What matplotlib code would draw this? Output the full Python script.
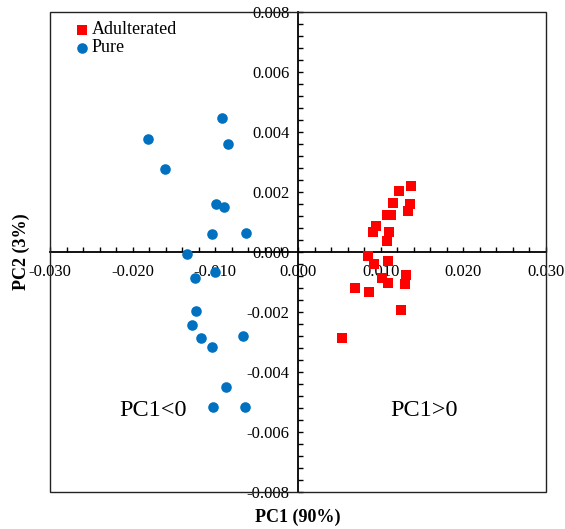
import matplotlib
matplotlib.use("Agg")
import matplotlib.pyplot as plt
from matplotlib.ticker import MultipleLocator, FormatStrFormatter
from matplotlib.patches import Rectangle

plt.rcParams['font.family'] = ['Liberation Serif', 'DejaVu Serif']
plt.rcParams['axes.unicode_minus'] = False

# Data
pure_x = [-0.00916, -0.01814, -0.00843, -0.01609, -0.00988, -0.00891, -0.01040, -0.00625,
          -0.01339, -0.01242, -0.01008, -0.01230, -0.01286, -0.01177, -0.00669, -0.01040,
          -0.00871, -0.01028, -0.00645]
pure_y = [0.00446, 0.00376, 0.00359, 0.00277, 0.00159, 0.00149, 0.00060, 0.00062,
          -0.00008, -0.00087, -0.00068, -0.00198, -0.00242, -0.00287, -0.00279, -0.00316,
          -0.00451, -0.00517, -0.00517]
adult_x = [0.01363, 0.01225, 0.01153, 0.01355, 0.01334, 0.01073, 0.01121, 0.00940,
           0.00904, 0.01101, 0.01073, 0.00850, 0.00919, 0.01085, 0.01020, 0.01092,
           0.01306, 0.01294, 0.00689, 0.00862, 0.01242, 0.00529]
adult_y = [0.00219, 0.00203, 0.00163, 0.00159, 0.00137, 0.00123, 0.00123, 0.00088,
           0.00068, 0.00068, 0.00037, -0.00012, -0.00040, -0.00030, -0.00088, -0.00104,
           -0.00077, -0.00108, -0.00119, -0.00134, -0.00193, -0.00288]

series_names = ["Adulterated", "Pure"]
x_label = "PC1 (90%)"
y_label = "PC2 (3%)"
region_labels = ["PC1<0", "PC1>0"]

fig = plt.figure(figsize=(5.65, 5.29), dpi=100)
ax = fig.add_axes([50/565, 37/529, 496/565, 480/529])

ax.scatter(adult_x, adult_y, marker='s', s=55, color='#FF0000', label=series_names[0],
           linewidths=0, zorder=3)
ax.scatter(pure_x, pure_y, marker='o', s=58, color='#0070C0', label=series_names[1],
           linewidths=0, zorder=3)

ax.set_xlim(-0.03, 0.03)
ax.set_ylim(-0.008, 0.008)

for s in ['top', 'right']:
    ax.spines[s].set_visible(False)
ax.spines['left'].set_position(('data', 0))
ax.spines['bottom'].set_position(('data', 0))
ax.spines['left'].set_linewidth(1.3)
ax.spines['bottom'].set_linewidth(1.3)

ax.add_patch(Rectangle((0, 0), 1, 1, transform=ax.transAxes, fill=False,
                       edgecolor='#222222', linewidth=1.0, clip_on=False, zorder=5))

ax.xaxis.set_major_locator(MultipleLocator(0.01))
ax.xaxis.set_minor_locator(MultipleLocator(0.002))
ax.yaxis.set_major_locator(MultipleLocator(0.002))
ax.yaxis.set_minor_locator(MultipleLocator(0.0004))
ax.xaxis.set_major_formatter(FormatStrFormatter('%.3f'))
ax.yaxis.set_major_formatter(FormatStrFormatter('%.3f'))

ax.tick_params(axis='x', which='both', direction='in', length=3.5, width=1, labelsize=12, pad=9)
ax.tick_params(axis='y', which='both', direction='in', length=3.5, width=1, labelsize=12, pad=6)

fig.text(298/565, 1 - 517/529, x_label, ha='center', va='center', fontsize=13, fontweight='bold')
fig.text(21/565, 1 - 252/529, y_label, ha='center', va='center', rotation=90,
         fontsize=13, fontweight='bold')

ax.text(-0.0175, -0.00530, region_labels[0], ha='center', va='center', fontsize=17.5)
ax.text(0.0152, -0.00530, region_labels[1], ha='center', va='center', fontsize=17.5)

leg = ax.legend(loc='upper left', bbox_to_anchor=(0.024, 1.003), frameon=False, fontsize=13,
                handletextpad=0.05, labelspacing=0.05, handlelength=1.0, borderaxespad=0.2,
                markerscale=1.0)

fig.savefig('out.png', dpi=100)
